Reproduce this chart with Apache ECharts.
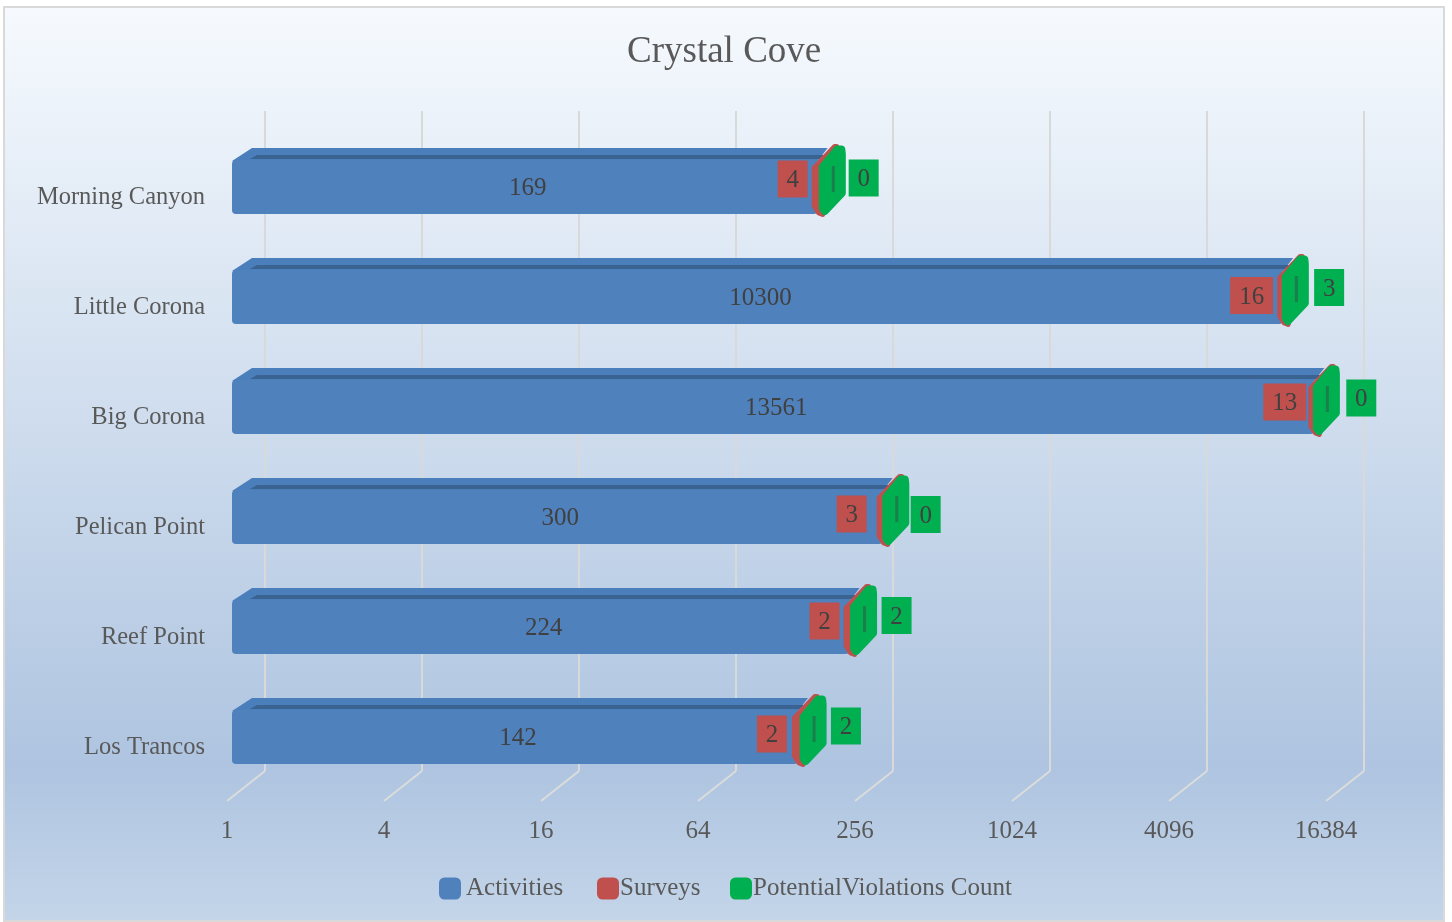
<!DOCTYPE html>
<html><head><meta charset="utf-8">
<style>html,body{margin:0;padding:0;background:#fff}#c{width:1452px;height:922px}</style>
<script src="https://cdn.jsdelivr.net/npm/echarts@6/dist/echarts.min.js"></script>
</head><body><div id="c"></div>
<script>
const categories = ['Morning Canyon','Little Corona','Big Corona','Pelican Point','Reef Point','Los Trancos'];
const activities = [169,10300,13561,300,224,142];
const surveys = [4,16,13,3,2,2];
const violations = [0,3,0,0,2,2];
const tickValues = [1,4,16,64,256,1024,4096,16384];

// label placement nudges (px), not data
const surveyGap = [4,4,2,10,4,5], surveyDy = [-8,-1.5,-5,-3,-6,-3];
const violGap = [37,37,38,34,38,39], violDy = [-9,-9.5,-9,-2.5,-11.5,-11];

const FONT = '"Liberation Serif", serif';
const BLUE='#4f81bd', RED='#c0504d', GREEN='#00b050';
const fs = 25;
const ROW_SHIFT = 11;
const chart = echarts.init(document.getElementById('c'), null, {renderer:'canvas'});

function rowY(api, v, i){ return api.coord([v,i]); }
function pts(cx, cy, list){ return list.map(p=>[cx+p[0], cy+p[1]]); }

function renderBar(params, api){
  const i = params.dataIndex;
  const c = rowY(api, api.value(0), i), o = rowY(api, 1, i);
  const yc = c[1]-ROW_SHIFT, x0 = o[0]+5, R = c[0]+3.7;
  const w = R+6-x0;
  return {type:'group', children:[
    {type:'polygon', shape:{points:[[x0,yc-26],[x0+20,yc-39],[R+16,yc-39],[R+6,yc-26]]}, style:{fill:'#4b7fbc'}},
    {type:'rect', shape:{x:x0,y:yc-27,width:w,height:54,r:4}, style:{fill:BLUE}},
    {type:'polygon', shape:{points:[[x0+18,yc-28],[x0+25,yc-32],[R+14,yc-32],[R+8,yc-28]]}, style:{fill:'#3a6391'}},
    {type:'text', style:{text:String(activities[i]), x:(x0+R)/2+6, y:yc+1.5, align:'center', verticalAlign:'middle', fill:'#404040', font:fs+'px '+FONT}}
  ]};
}
function labelBox(text, x, cy, w, fill){
  return [
    {type:'rect', shape:{x:x,y:cy-18.5,width:w,height:37}, style:{fill:fill}},
    {type:'text', style:{text:String(text), x:x+w/2, y:cy+1.5, align:'center', verticalAlign:'middle', fill:'#404040', font:fs+'px '+FONT}}
  ];
}
function renderSurvey(params, api){
  const i = params.dataIndex;
  const c = rowY(api, activities[i], i);
  const yc = c[1]-ROW_SHIFT, R = c[0]+3.7;
  const t = surveys[i];
  const w = String(t).length>1 ? 43 : 30;
  return {type:'group', children:[
    {type:'polygon', shape:{points:pts(R,yc,[[2.5,-19],[23,-40.5],[25,-40.5],[11,27.5],[7,26],[2.5,19]])},
      style:{fill:RED, stroke:RED, lineWidth:5, lineJoin:'round'}},
    ...labelBox(t, R-surveyGap[i]-w, yc+surveyDy[i], w, RED)
  ]};
}
function renderViol(params, api){
  const i = params.dataIndex;
  const c = rowY(api, activities[i], i);
  const g = rowY(api, api.value(0), i);
  const yc = c[1]-ROW_SHIFT, R = c[0]+3.7, G = g[0]+3.7;
  return {type:'group', children:[
    {type:'polygon', shape:{points:pts(G,yc,[[8.5,-20],[23,-37.5],[27,-37.5],[27.5,-33],[27.5,6],[10.5,24],[8.5,21]])},
      style:{fill:GREEN, stroke:GREEN, lineWidth:8, lineJoin:'round'}},
    {type:'line', shape:{x1:G+19,y1:yc-21,x2:G+19,y2:yc+5}, style:{stroke:'#1a7f4a', lineWidth:3}},
    ...labelBox(violations[i], R+violGap[i], yc+violDy[i], 30, GREEN)
  ]};
}
function renderFloor(params, api){
  const c = api.coord([api.value(0), categories.length-1]);
  const b = params.coordSys.y + params.coordSys.height - 2;
  return {type:'polyline', silent:true, shape:{points:[[c[0],b],[c[0]+38,b-30]]}, style:{stroke:'#dcdcdc', lineWidth:2, fill:'none'}};
}

const legendBase = {orient:'horizontal', icon:'roundRect', itemWidth:22, itemHeight:22, top:876, padding:0, selectedMode:false,
  textStyle:{fontFamily:FONT, fontSize:fs, color:'#595959'}};

chart.setOption({
  animation:false,
  title:{text:'Crystal Cove', left:622, top:29, textStyle:{fontFamily:FONT, fontSize:37, fontWeight:'normal', color:'#595959'}},
  graphic:[{type:'rect', z:-100, shape:{x:4,y:7,width:1440,height:914}, style:{
    fill:new echarts.graphic.LinearGradient(0,0,0,1,[{offset:0,color:'#f6fafe'},{offset:0.83,color:'#aec4e0'},{offset:1,color:'#c4d5e9'}]),
    stroke:'#d9d9d9', lineWidth:2}}],
  legend:[
    Object.assign({},legendBase,{left:439,data:['Activities']}),
    Object.assign({},legendBase,{left:597,data:['Surveys'],textStyle:Object.assign({},legendBase.textStyle,{padding:[0,0,0,-4]})}),
    Object.assign({},legendBase,{left:730,data:['PotentialViolations Count'],textStyle:Object.assign({},legendBase.textStyle,{padding:[0,0,0,-4]})})
  ],
  grid:[
    {left:227,top:143,width:1099,height:660},
    {left:265,top:111,width:1099,height:660}
  ],
  xAxis:[
    {type:'log',logBase:4,min:1,max:16384,gridIndex:0,axisLine:{show:false},axisTick:{show:false},splitLine:{show:false},
      axisLabel:{margin:16,fontFamily:FONT,fontSize:fs,color:'#595959',showMinLabel:true,showMaxLabel:true,formatter:v=>String(Math.round(v))}},
    {type:'log',logBase:4,min:1,max:16384,gridIndex:1,axisLine:{show:false},axisTick:{show:false},axisLabel:{show:false},
      splitLine:{show:true,lineStyle:{color:'#d9d9d9',width:2}}}
  ],
  yAxis:[
    {type:'category',data:categories,inverse:true,gridIndex:0,axisLine:{show:false},axisTick:{show:false},splitLine:{show:false},
      axisLabel:{margin:22,fontFamily:FONT,fontSize:24.5,color:'#595959'}},
    {type:'category',data:categories,inverse:true,gridIndex:1,show:false}
  ],
  series:[
    {type:'custom',name:'floor',silent:true,xAxisIndex:0,yAxisIndex:0,renderItem:renderFloor,encode:{x:0},
      data:tickValues.map(t=>[t])},
    {type:'custom',name:'Activities',xAxisIndex:0,yAxisIndex:0,itemStyle:{color:BLUE},renderItem:renderBar,encode:{x:0,y:1},
      data:activities.map((v,i)=>[v,i])},
    {type:'custom',name:'Surveys',xAxisIndex:0,yAxisIndex:0,itemStyle:{color:RED},renderItem:renderSurvey,encode:{x:0,y:1},
      data:surveys.map((v,i)=>[activities[i]+v,i])},
    {type:'custom',name:'PotentialViolations Count',xAxisIndex:0,yAxisIndex:0,itemStyle:{color:GREEN},renderItem:renderViol,encode:{x:0,y:1},
      data:violations.map((v,i)=>[activities[i]+surveys[i]+v,i])}
  ]
});
</script></body></html>
